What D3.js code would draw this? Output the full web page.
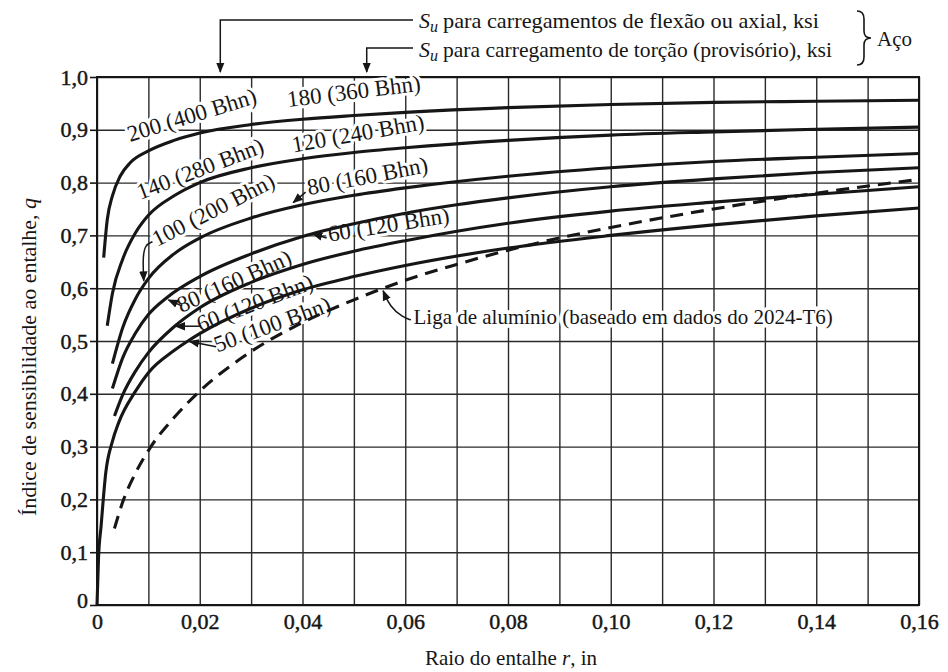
<!DOCTYPE html>
<html><head><meta charset="utf-8">
<script src="https://cdn.jsdelivr.net/npm/d3@7"></script>
<style>
body{margin:0;background:#fff}
svg{display:block}
text{fill:#161616;font-family:"Liberation Serif","DejaVu Serif",serif}
</style></head>
<body><svg id="c" width="948" height="672"></svg>
<script>
// ---------- data ----------
const xTickValues = [0,0.02,0.04,0.06,0.08,0.10,0.12,0.14,0.16];
const xTickLabels = ["0","0,02","0,04","0,06","0,08","0,10","0,12","0,14","0,16"];
const yTickValues = [0,0.1,0.2,0.3,0.4,0.5,0.6,0.7,0.8,0.9,1.0];
const yTickLabels = ["0","0,1","0,2","0,3","0,4","0,5","0,6","0,7","0,8","0,9","1,0"];

// Steel curves (Su bending, ksi) — notch radius r (in) vs sensitivity q
const rSu200 = [0.0013,0.002,0.003,0.0045,0.0065,0.01,0.015,0.02,0.03,0.04,0.05,0.06,0.08,0.10,0.12,0.14,0.16];
const qSu200 = [0.658,0.73,0.775,0.812,0.838,0.86,0.88,0.894,0.91,0.92,0.927,0.933,0.942,0.948,0.952,0.954,0.956];
const rSu140 = [0.002,0.003,0.005,0.0075,0.01,0.015,0.02,0.03,0.04,0.05,0.06,0.08,0.10,0.12,0.14,0.16];
const qSu140 = [0.529,0.59,0.655,0.705,0.738,0.775,0.80,0.828,0.845,0.857,0.866,0.88,0.89,0.896,0.901,0.905];
const rSu100 = [0.003,0.005,0.0075,0.01,0.015,0.02,0.03,0.04,0.05,0.06,0.08,0.10,0.12,0.14,0.16];
const qSu100 = [0.457,0.525,0.58,0.618,0.665,0.695,0.733,0.758,0.776,0.79,0.812,0.828,0.84,0.848,0.855];
const rSu80 = [0.003,0.005,0.0075,0.01,0.0137,0.02,0.03,0.04,0.05,0.06,0.07,0.08,0.10,0.12,0.14,0.16];
const qSu80 = [0.41,0.468,0.515,0.55,0.583,0.622,0.665,0.698,0.722,0.742,0.758,0.771,0.792,0.807,0.819,0.828];
const rSu60 = [0.0034,0.005,0.0075,0.01,0.015,0.02,0.03,0.04,0.05,0.06,0.08,0.10,0.12,0.14,0.16];
const qSu60 = [0.358,0.398,0.443,0.478,0.527,0.563,0.611,0.645,0.67,0.69,0.723,0.746,0.763,0.778,0.792];
const rSu50 = [0,0.0003,0.0008,0.0017,0.003,0.0042,0.0075,0.01,0.015,0.018,0.02,0.03,0.04,0.05,0.06,0.08,0.10,0.12,0.14,0.16];
const qSu50 = [0,0.09,0.15,0.25,0.31,0.345,0.405,0.44,0.482,0.502,0.514,0.562,0.597,0.622,0.643,0.676,0.70,0.72,0.737,0.752];
// Aluminium alloy 2024-T6 (dashed)
const rAl = [0.0034,0.005,0.0075,0.0105,0.015,0.02,0.03,0.04,0.05,0.06,0.07,0.08,0.09,0.10,0.12,0.14,0.16];
const qAl = [0.145,0.195,0.25,0.30,0.355,0.405,0.48,0.535,0.578,0.615,0.645,0.672,0.695,0.715,0.75,0.78,0.806];

const curveLabels = ["200 (400 Bhn)","180 (360 Bhn)","140 (280 Bhn)","120 (240 Bhn)",
  "100 (200 Bhn)","80 (160 Bhn)","60 (120 Bhn)","80 (160 Bhn)","60 (120 Bhn)","50 (100 Bhn)"];
const titleBending = "para carregamentos de flexão ou axial, ksi";
const titleTorsion = "para carregamento de torção (provisório), ksi";
const steelLabel = "Aço";
const alLabel = "Liga de alumínio (baseado em dados do 2024-T6)";
const xTitle = ["Raio do entalhe ", "r", ", in"];
const yTitle = ["Índice de sensibilidade ao entalhe, ", "q"];

// ---------- layout ----------
const svg = d3.select("#c");
const X0=97, X1=919, Y0=605, Y1=77;
const x = d3.scaleLinear().domain([0,0.16]).range([X0,X1]);
const y = d3.scaleLinear().domain([0,1]).range([Y0,Y1]);
const ink = "#161616";

const defs = svg.append("defs");
defs.append("marker").attr("id","ah").attr("viewBox","0 0 10 10").attr("refX",9).attr("refY",5)
  .attr("markerWidth",7).attr("markerHeight",7).attr("orient","auto-start-reverse")
  .append("path").attr("d","M0,1 L10,5 L0,9 Z").attr("fill",ink);

// grid via axes
const gridR = d3.range(0,17).map(i=>i/100);
svg.append("g").attr("transform",`translate(0,${Y0})`)
  .call(d3.axisBottom(x).tickValues(gridR).tickSize(-(Y0-Y1)).tickFormat(""))
  .call(g=>g.select(".domain").remove())
  .call(g=>g.selectAll("line").attr("stroke","#2a2a2a").attr("stroke-width",1.4));
svg.append("g").attr("transform",`translate(${X0},0)`)
  .call(d3.axisLeft(y).tickValues(yTickValues).tickSize(-(X1-X0)).tickFormat(""))
  .call(g=>g.select(".domain").remove())
  .call(g=>g.selectAll("line").attr("stroke","#2a2a2a").attr("stroke-width",1.4));
svg.append("rect").attr("x",X0).attr("y",Y1).attr("width",X1-X0).attr("height",Y0-Y1)
  .attr("fill","none").attr("stroke",ink).attr("stroke-width",2);

// axes labels
const xa = svg.append("g").attr("transform",`translate(0,${Y0})`)
  .call(d3.axisBottom(x).tickValues(xTickValues).tickFormat((d,i)=>xTickLabels[i]).tickSize(0).tickPadding(8));
xa.select(".domain").remove();
xa.selectAll("text").attr("font-size",22).attr("fill",ink).attr("stroke",ink).attr("stroke-width",0.45);
const ya = svg.append("g").attr("transform",`translate(${X0},0)`)
  .call(d3.axisLeft(y).tickValues(yTickValues).tickFormat((d,i)=>yTickLabels[i]).tickSize(7).tickPadding(2));
ya.select(".domain").remove();
ya.selectAll("line").attr("stroke",ink).attr("stroke-width",1.6);
ya.selectAll("text").attr("font-size",22).attr("fill",ink).attr("stroke",ink).attr("stroke-width",0.45);
ya.selectAll(".tick").filter(d=>d===0).select("text").attr("dy","0.1em");
svg.selectAll("g").attr("font-family",null);

// titles
const xt = svg.append("text").attr("x",511).attr("y",665).attr("text-anchor","middle").attr("font-size",21);
xt.append("tspan").text(xTitle[0]);
xt.append("tspan").attr("font-style","italic").text(xTitle[1]);
xt.append("tspan").text(xTitle[2]);
const yt = svg.append("text").attr("transform","translate(36,357) rotate(-90)").attr("text-anchor","middle")
  .attr("font-size",21).attr("textLength",318).attr("lengthAdjust","spacingAndGlyphs");
yt.append("tspan").text(yTitle[0]);
yt.append("tspan").attr("font-style","italic").text(yTitle[1]);

// ---------- curve labels (anchored in data coordinates: r, q, angle) ----------
const labelPos = [
  [0.0064,0.877,-17],[0.0372,0.943,-7],[0.0084,0.767,-21],[0.0382,0.857,-10],
  [0.0117,0.678,-27],[0.0412,0.776,-11],[0.0452,0.688,-9],
  [0.0164,0.553,-24],[0.0201,0.517,-21],[0.0234,0.478,-20]
];
const lab = svg.append("g");
curveLabels.forEach((t,i)=>{
  const [r,q,a]=labelPos[i];
  lab.append("text").attr("transform",`translate(${x(r)},${y(q)}) rotate(${a})`)
    .attr("font-size",23).attr("stroke","#fff").attr("stroke-width",6).attr("paint-order","stroke")
    .attr("stroke-linejoin","round").text(t);
});
svg.append("text").attr("x",x(0.0616)).attr("y",y(0.532)).attr("font-size",21)
  .attr("stroke","#fff").attr("stroke-width",7).attr("paint-order","stroke").text(alLabel);

// ---------- curves ----------
const line = d3.line().x(d=>x(d[0])).y(d=>y(d[1])).curve(d3.curveMonotoneX);
const series = [
  {r:rSu200,q:qSu200,dash:null},{r:rSu140,q:qSu140,dash:null},{r:rSu100,q:qSu100,dash:null},
  {r:rSu80,q:qSu80,dash:null},{r:rSu60,q:qSu60,dash:null},{r:rSu50,q:qSu50,dash:null},
  {r:rAl,q:qAl,dash:"13,8"}
];
svg.append("g").selectAll("path").data(series).join("path")
  .attr("d",s=>line(s.r.map((v,i)=>[v,s.q[i]])))
  .attr("fill","none").attr("stroke",ink).attr("stroke-width",3.1)
  .attr("stroke-dasharray",s=>s.dash);

// ---------- pointer arrows ----------
const arr = svg.append("g").attr("fill","none").attr("stroke",ink).attr("stroke-width",1.5);
const P=(r,q)=>[x(r),y(q)];
function arrow(pts, curved){
  const p = curved ? d3.line().curve(d3.curveBasis)(pts) : d3.line()(pts);
  arr.append("path").attr("d",p).attr("marker-end","url(#ah)");
}
arrow([P(0.0108,0.688),P(0.0093,0.682),P(0.0089,0.655),P(0.0091,0.614)],true);
arrow([P(0.0406,0.782),P(0.0382,0.762)],false);
arrow([P(0.0447,0.695),P(0.0420,0.703)],false);
arrow([P(0.0166,0.566),P(0.0139,0.578)],false);
arrow([P(0.0202,0.528),P(0.0153,0.528)],false);
arrow([P(0.0232,0.489),P(0.0180,0.499)],false);
arrow([P(0.0611,0.540),P(0.0595,0.545),P(0.0570,0.565),P(0.0557,0.595)],true);

// ---------- top annotations ----------
const topG = svg.append("g");
function su(tx,ty,rest,len){
  const t = topG.append("text").attr("x",tx).attr("y",ty).attr("font-size",22);
  t.append("tspan").attr("font-style","italic").text("S");
  t.append("tspan").attr("font-style","italic").attr("font-size",16).attr("dy",4).text("u");
  t.append("tspan").attr("dy",-4).attr("dx",5).attr("textLength",len).attr("lengthAdjust","spacingAndGlyphs").text(rest);
}
su(419,28,titleBending,376);
su(419,57,titleTorsion,389);
topG.append("path").attr("d",`M413,20 H${x(0.024)} V${Y1-5}`).attr("fill","none").attr("stroke",ink).attr("stroke-width",1.5).attr("marker-end","url(#ah)");
topG.append("path").attr("d",`M413,48 H${x(0.0525)} V${Y1-5}`).attr("fill","none").attr("stroke",ink).attr("stroke-width",1.5).attr("marker-end","url(#ah)");
topG.append("path").attr("d","M857,11 Q864,11 864,19 L864,31 Q864,38 871,38 Q864,38 864,45 L864,57 Q864,65 857,65")
  .attr("fill","none").attr("stroke",ink).attr("stroke-width",1.6);
topG.append("text").attr("x",877).attr("y",46).attr("font-size",21).text(steelLabel);
</script></body></html>
